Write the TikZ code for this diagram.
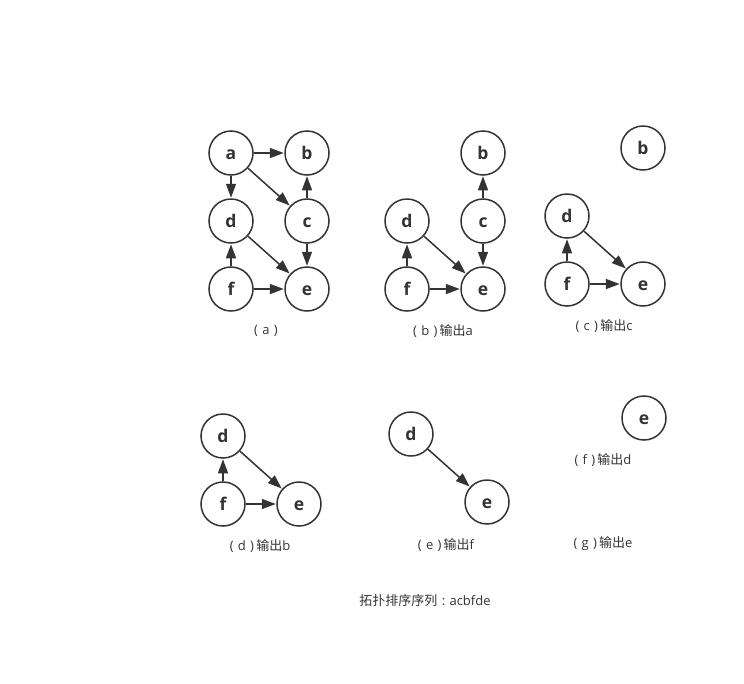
\documentclass[tikz,border=0pt]{standalone}
\usepackage{fontspec}
\setmainfont{Open Sans}
\newfontfamily\cjk{Noto Sans CJK SC}
\usetikzlibrary{arrows.meta}
\definecolor{ink}{HTML}{333333}
\tikzset{
  vtx/.style={circle,draw=ink,line width=1.5pt,minimum size=44pt,inner sep=0pt,
    text height=12pt,text depth=0pt,
    text=ink,font=\fontsize{17.5}{19}\selectfont\bfseries},
  arr/.style={draw=ink,line width=1.5pt,-{Triangle[length=14pt,width=10pt]},shorten >=0.5pt},
  lbl/.style={text=ink,font=\fontsize{13}{15}\selectfont,inner sep=0pt}
}
\begin{document}
\begin{tikzpicture}[x=1pt,y=-1pt]
\useasboundingbox (0,0) rectangle (744,683);
% (a)
\node[vtx] (aa) at (231,153) {a};
\node[vtx] (ab) at (307,153) {b};
\node[vtx] (ad) at (231,221) {d};
\node[vtx] (ac) at (307,221) {c};
\node[vtx] (af) at (231,289) {f};
\node[vtx] (ae) at (307,289) {e};
\draw[arr] (aa) -- (ab);
\draw[arr] (aa) -- (ad);
\draw[arr] (aa) -- (ac);
\draw[arr] (ac) -- (ab);
\draw[arr] (ac) -- (ae);
\draw[arr] (ad) -- (ae);
\draw[arr] (af) -- (ad);
\draw[arr] (af) -- (ae);
\node[lbl] (la) at (266,331) {(\,\,a\,\,)};
% (b)
\node[vtx] (bb) at (483,153) {b};
\node[vtx] (bd) at (407,221) {d};
\node[vtx] (bc) at (483,221) {c};
\node[vtx] (bf) at (407,289) {f};
\node[vtx] (be) at (483,289) {e};
\draw[arr] (bc) -- (bb);
\draw[arr] (bc) -- (be);
\draw[arr] (bd) -- (be);
\draw[arr] (bf) -- (bd);
\draw[arr] (bf) -- (be);
\node[lbl] (lb) at (443,331) {(\,\,b\,\,)\,{\cjk 输出}a};
% (c)
\node[vtx] (cb) at (643,148) {b};
\node[vtx] (cd) at (567,216) {d};
\node[vtx] (cf) at (567,284) {f};
\node[vtx] (ce) at (643,284) {e};
\draw[arr] (cd) -- (ce);
\draw[arr] (cf) -- (cd);
\draw[arr] (cf) -- (ce);
\node[lbl] (lc) at (604,326) {(\,\,c\,\,)\,{\cjk 输出}c};
% (d)
\node[vtx] (dd) at (223,436) {d};
\node[vtx] (df) at (223,504) {f};
\node[vtx] (de) at (299,504) {e};
\draw[arr] (dd) -- (de);
\draw[arr] (df) -- (dd);
\draw[arr] (df) -- (de);
\node[lbl] (ld) at (260,546) {(\,\,d\,\,)\,{\cjk 输出}b};
% (e)
\node[vtx] (ed) at (411,434) {d};
\node[vtx] (ee) at (487,502) {e};
\draw[arr] (ed) -- (ee);
\node[lbl] (le) at (446,545) {(\,\,e\,\,)\,{\cjk 输出}f};
% (f)
\node[vtx] (fe) at (644,418) {e};
\node[lbl] (lf) at (603,460) {(\,\,f\,\,)\,{\cjk 输出}d};
% (g)
\node[lbl] (lg) at (603,544) {(\,\,g\,\,)\,{\cjk 输出}e};
% sequence
\node[lbl] (seq) at (425,601) {{\cjk 拓扑排序序列}\,\,:\,\,acbfde};
\end{tikzpicture}
\end{document}
